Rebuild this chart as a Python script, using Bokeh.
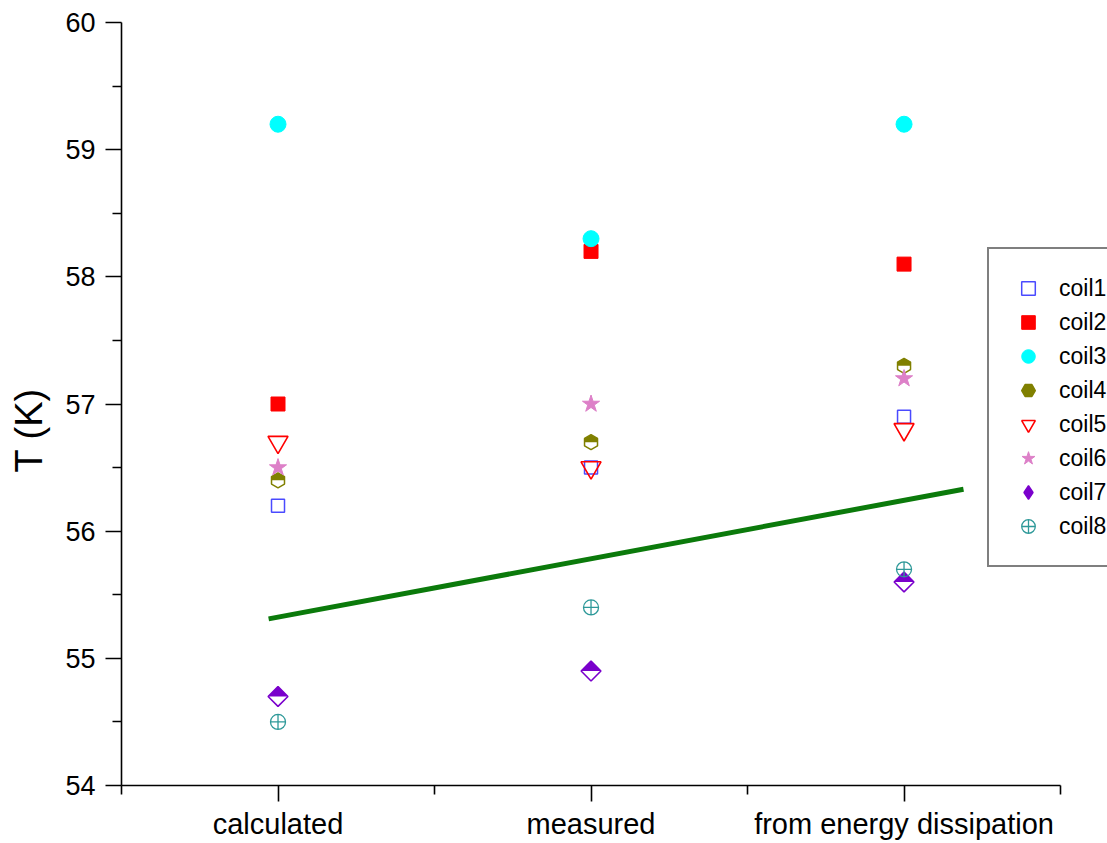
import numpy as np
from bokeh.plotting import figure
from bokeh.models import FixedTicker, Legend, LegendItem, Range1d
from bokeh.embed import file_html
from bokeh.resources import INLINE

# ---------------- data ----------------
categories = ["calculated", "measured", "from energy dissipation"]
series_names = ["coil1", "coil2", "coil3", "coil4", "coil5", "coil6", "coil7", "coil8"]
coil1 = [56.2, 56.5, 56.9]
coil2 = [57.0, 58.2, 58.1]
coil3 = [59.2, 58.3, 59.2]
coil4 = [56.4, 56.7, 57.3]
coil5 = [56.7, 56.5, 56.8]
coil6 = [56.5, 57.0, 57.2]
coil7 = [54.7, 54.9, 55.6]
coil8 = [54.5, 55.4, 55.7]
trend_x = [0.97, 3.19]
trend_y = [55.31, 56.33]
y_ticks = [54, 55, 56, 57, 58, 59, 60]
y_minor = [54.5, 55.5, 56.5, 57.5, 58.5, 59.5]
x_minor = [0.5, 1.5, 2.5, 3.5]

xpos = [i + 1 for i in range(len(categories))]
FONT = "Liberation Sans"

p = figure(width=1107, height=843, output_backend="svg", toolbar_location=None,
           x_range=Range1d(0.5, 3.65), y_range=Range1d(54, 60),
           min_border_left=121, min_border_right=0, min_border_top=22, min_border_bottom=58)
p.outline_line_color = None
p.grid.visible = False
p.background_fill_color = "white"
p.border_fill_color = "white"

# axes
p.xaxis.ticker = FixedTicker(ticks=xpos, minor_ticks=x_minor)
p.xaxis.major_label_overrides = {x: c for x, c in zip(xpos, categories)}
p.xaxis.bounds = (0.5, 3.5)
p.yaxis.ticker = FixedTicker(ticks=y_ticks, minor_ticks=y_minor)
p.yaxis.axis_label = "T (K)" + "\u00a0" * 5
for ax in (p.xaxis[0], p.yaxis[0]):
    ax.axis_line_color = "black"
    ax.axis_line_width = 1.6
    ax.major_tick_line_color = "black"
    ax.major_tick_line_width = 1.6
    ax.minor_tick_line_color = "black"
    ax.minor_tick_line_width = 1.6
    ax.major_tick_in = 0
    ax.major_tick_out = 16
    ax.minor_tick_in = 0
    ax.minor_tick_out = 9
    ax.major_label_text_font = FONT
    ax.major_label_text_color = "black"
p.xaxis.major_label_text_font_size = "29px"
p.xaxis.major_label_standoff = 6
p.yaxis.major_label_text_font_size = "27px"
p.yaxis.major_label_standoff = 10
p.yaxis.axis_label_text_font = FONT
p.yaxis.axis_label_text_font_size = "38px"
p.yaxis.axis_label_text_font_style = "normal"
p.yaxis.axis_label_text_color = "black"
p.yaxis.axis_label_standoff = 12

# trend line
p.line(trend_x, trend_y, line_color="#0b7a0b", line_width=5)

items = []
# coil1 open blue square
r = p.scatter(xpos, coil1, marker="square", size=13, fill_color=None,
              line_color="#4a4aff", line_width=1.5)
items.append(LegendItem(label=series_names[0], renderers=[r]))
# coil2 filled red square
r = p.scatter(xpos, coil2, marker="square", size=14, fill_color="#ff0000",
              line_color="#ff0000", line_width=1)
items.append(LegendItem(label=series_names[1], renderers=[r]))
# coil3 filled cyan circle
r = p.scatter(xpos, coil3, marker="circle", size=16, fill_color="#00ffff",
              line_color="#00ffff", line_width=1)
items.append(LegendItem(label=series_names[2], renderers=[r]))
# coil4 half-filled olive hexagon
hf = p.scatter(xpos, coil4, marker="hex", angle=np.pi / 2, size=15,
               fill_color="#808000", line_color=None)
p.wedge(xpos, coil4, radius=7.0, radius_units="screen", start_angle=np.pi,
        end_angle=2 * np.pi, fill_color="white", line_color=None)
ho = p.scatter(xpos, coil4, marker="hex", angle=np.pi / 2, size=15,
               fill_color=None, line_color="#808000", line_width=1.5)
items.append(LegendItem(label=series_names[3], renderers=[hf, ho]))
# coil5 open red inverted triangle
r = p.scatter(xpos, coil5, marker="inverted_triangle", size=20, fill_color=None,
              line_color="#ff0000", line_width=1.6)
items.append(LegendItem(label=series_names[4], renderers=[r]))
# coil6 pink star
r = p.scatter(xpos, coil6, marker="star", size=18, fill_color="#dd80c8",
              line_color="#dd80c8", line_width=1)
items.append(LegendItem(label=series_names[5], renderers=[r]))
# coil7 half-filled purple diamond
df = p.scatter(xpos, coil7, marker="square", angle=np.pi / 4, size=14,
               fill_color="#7a00cc", line_color=None)
p.wedge(xpos, coil7, radius=9.5, radius_units="screen", start_angle=np.pi,
        end_angle=2 * np.pi, fill_color="white", line_color=None)
do = p.scatter(xpos, coil7, marker="square", angle=np.pi / 4, size=14,
               fill_color=None, line_color="#7a00cc", line_width=1.6)
# legend-only diamond glyph (legend ignores marker angle)
lf = p.scatter(xpos, coil7, marker="diamond", size=18, fill_color="#7a00cc",
               line_color="#7a00cc", line_width=1.4, visible=False)
items.append(LegendItem(label=series_names[6], renderers=[lf]))
# coil8 teal circle cross
r = p.scatter(xpos, coil8, marker="circle_cross", size=15, fill_color=None,
              line_color="#2e9999", line_width=1.3)
items.append(LegendItem(label=series_names[7], renderers=[r]))

legend = Legend(items=items, location=(866, 218), orientation="vertical",
                glyph_width=34, glyph_height=34, label_height=34, spacing=0,
                padding=22, label_standoff=14, margin=0,
                label_text_font=FONT, label_text_font_size="23px",
                label_text_color="black",
                border_line_color="#000000", border_line_width=2.5,
                background_fill_color="white", background_fill_alpha=1.0)
p.add_layout(legend)

open("out.html", "w").write(file_html(p, INLINE))
